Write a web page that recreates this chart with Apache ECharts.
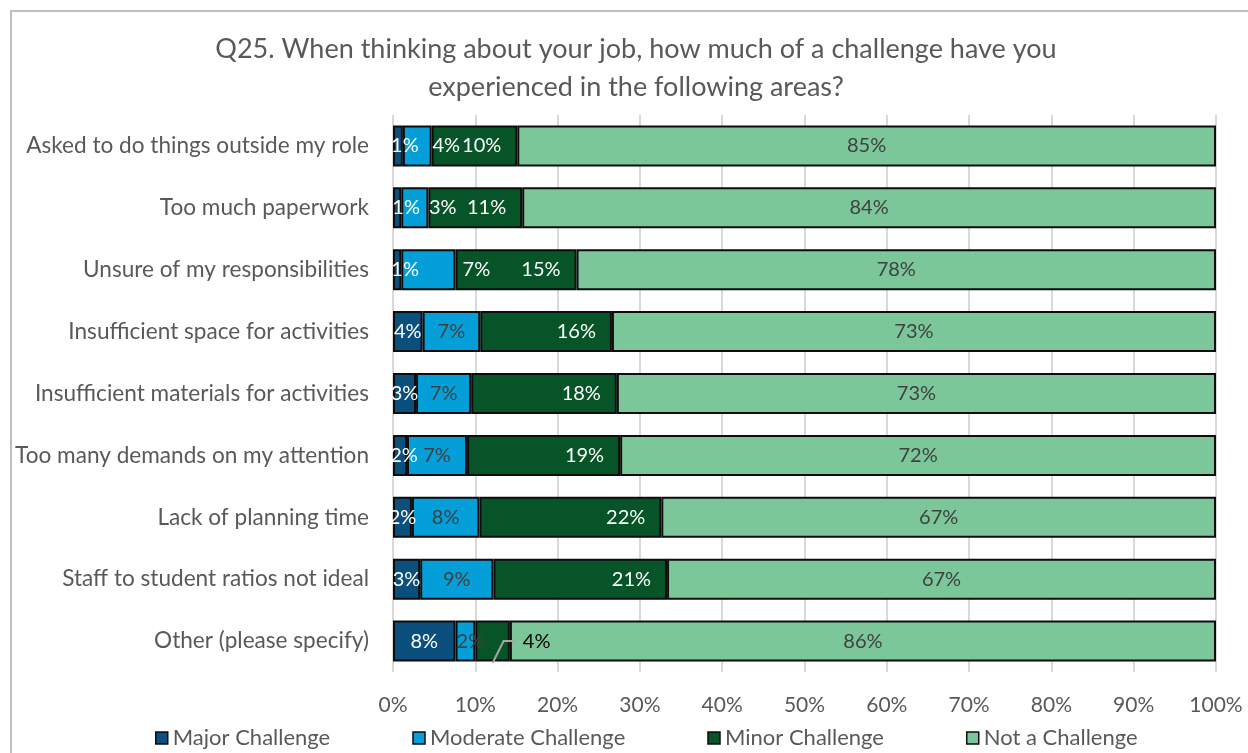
<!DOCTYPE html>
<html>
<head>
<meta charset="utf-8">
<script src="https://cdn.jsdelivr.net/npm/echarts@6/dist/echarts.min.js"></script>
<style>
  html, body { margin: 0; padding: 0; background: #fff; }
  #chart { width: 1248px; height: 753px; }
</style>
</head>
<body>
<div id="chart"></div>
<script>
// Survey answers, top row first (percent of respondents)
const categories = [
  'Asked to do things outside my role',
  'Too much paperwork',
  'Unsure of my responsibilities',
  'Insufficient space for activities',
  'Insufficient materials for activities',
  'Too many demands on my attention',
  'Lack of planning time',
  'Staff to student ratios not ideal',
  'Other (please specify)'
];
const seriesNames = ['Major Challenge', 'Moderate Challenge', 'Minor Challenge', 'Not a Challenge'];
const majorVals    = [1.2, 1.0, 1.0, 3.6, 2.8, 1.7, 2.3, 3.3, 7.6];
const moderateVals = [3.5, 3.3, 6.6, 7.0, 6.7, 7.3, 8.2, 8.9, 2.4];
const minorVals    = [10.4, 11.4, 14.7, 16.0, 17.7, 18.6, 22.1, 21.1, 4.2];
const notVals      = [84.9, 84.3, 77.7, 73.4, 72.8, 72.4, 67.4, 66.7, 85.8];
const tickLabels = ['0%', '10%', '20%', '30%', '40%', '50%', '60%', '70%', '80%', '90%', '100%'];

// Hand-nudged label positions (horizontal shift in px) for narrow segments
const majorShift    = [7, 9, 8, 0, 0, 4, 0, 0, 0];
const moderateShift = [29, 28, 48, 0, 0, 0, 0, 0, 5];
const LAST = categories.length - 1;

const colors = ['#0b4f7d', '#049fd9', '#065428', '#7bc79a'];
const FONT = 'Lato, "Open Sans", sans-serif';
const fmt = v => Math.round(v) + '%';

const barBase = {
  type: 'bar',
  stack: 'total',
  barWidth: 41,
  itemStyle: { borderColor: '#0d0d0d', borderWidth: 2 },
  emphasis: { disabled: true }
};

const series = [
  Object.assign({}, barBase, {
    name: seriesNames[0],
    itemStyle: Object.assign({ color: colors[0] }, barBase.itemStyle),
    label: { show: true, position: 'inside', color: '#fff', fontSize: 20, fontFamily: FONT,
             formatter: p => fmt(p.value) },
    data: majorVals.map((v, i) => ({ value: v, label: { offset: [majorShift[i], 0] } }))
  }),
  Object.assign({}, barBase, {
    name: seriesNames[1],
    itemStyle: Object.assign({ color: colors[1] }, barBase.itemStyle),
    label: { show: true, position: 'inside', color: '#404040', fontSize: 20, fontFamily: FONT,
             formatter: p => fmt(p.value) },
    data: moderateVals.map((v, i) => ({
      value: v,
      label: { offset: [moderateShift[i], 0], color: i < 3 ? '#fff' : '#404040' }
    }))
  }),
  Object.assign({}, barBase, {
    name: seriesNames[2],
    itemStyle: Object.assign({ color: colors[2] }, barBase.itemStyle),
    label: { show: true, position: 'insideRight', distance: 16, color: '#fff', fontSize: 20, fontFamily: FONT,
             formatter: p => fmt(p.value) },
    data: minorVals.map((v, i) => i === LAST
      ? { value: v, label: { position: 'right', distance: 13, color: '#000' } }
      : v)
  }),
  Object.assign({}, barBase, {
    name: seriesNames[3],
    itemStyle: Object.assign({ color: colors[3] }, barBase.itemStyle),
    label: { show: true, position: 'inside', color: '#404040', fontSize: 20, fontFamily: FONT,
             formatter: p => fmt(p.value) },
    data: notVals
  })
];

const chart = echarts.init(document.getElementById('chart'), null, { renderer: 'canvas' });

chart.setOption({
  animation: false,
  backgroundColor: '#fff',
  color: colors,
  title: {
    text: 'Q25. When thinking about your job, how much of a challenge have you\nexperienced in the following areas?',
    left: 631,
    top: 25,
    textAlign: 'center',
    textStyle: { fontFamily: FONT, fontSize: 27, fontWeight: 'normal', color: '#595959', lineHeight: 38 }
  },
  legend: {
    left: 150,
    top: 722,
    itemWidth: 12,
    itemHeight: 12,
    itemGap: 82,
    icon: 'rect',
    itemStyle: { borderColor: '#0d0d0d', borderWidth: 1.5 },
    textStyle: { fontFamily: FONT, fontSize: 22, color: '#595959' },
    data: seriesNames
  },
  grid: { left: 393, right: 32, top: 115, bottom: 81 },
  xAxis: {
    type: 'value',
    min: 0,
    max: 100,
    interval: 10,
    axisLine: { show: false },
    axisTick: { show: false },
    splitLine: { lineStyle: { color: '#d9d9d9', width: 2 } },
    axisLabel: {
      margin: 23,
      fontFamily: FONT, fontSize: 21, color: '#595959',
      formatter: v => tickLabels[Math.round(v / 10)]
    }
  },
  yAxis: {
    type: 'category',
    inverse: true,
    data: categories,
    axisLine: { show: false },
    axisTick: { show: false },
    axisLabel: { margin: 24, fontFamily: FONT, fontSize: 22.6, color: '#595959' }
  },
  series: series
});

// Leader line for the "Other" minor-challenge label, anchored to that segment
const otherCat = categories[LAST];
const segMid = majorVals[LAST] + moderateVals[LAST] + minorVals[LAST] / 2;
const segEnd = majorVals[LAST] + moderateVals[LAST] + minorVals[LAST];
const pMid = chart.convertToPixel({ gridIndex: 0 }, [segMid, otherCat]);
const pEnd = chart.convertToPixel({ gridIndex: 0 }, [segEnd, otherCat]);

chart.setOption({
  graphic: [
    {
      type: 'rect',
      silent: true,
      shape: { x: 11, y: 11, width: 1400, height: 900 },
      style: { fill: 'none', stroke: '#bfbfbf', lineWidth: 2 },
      z: -10
    },
    {
      type: 'polyline',
      silent: true,
      shape: { points: [[pMid[0], pMid[1] + 22], [pMid[0] + 11, pMid[1]], [pEnd[0] + 5, pMid[1]]] },
      style: { stroke: '#a6a6a6', lineWidth: 2, fill: 'none' },
      z: 100
    }
  ]
});
</script>
</body>
</html>
